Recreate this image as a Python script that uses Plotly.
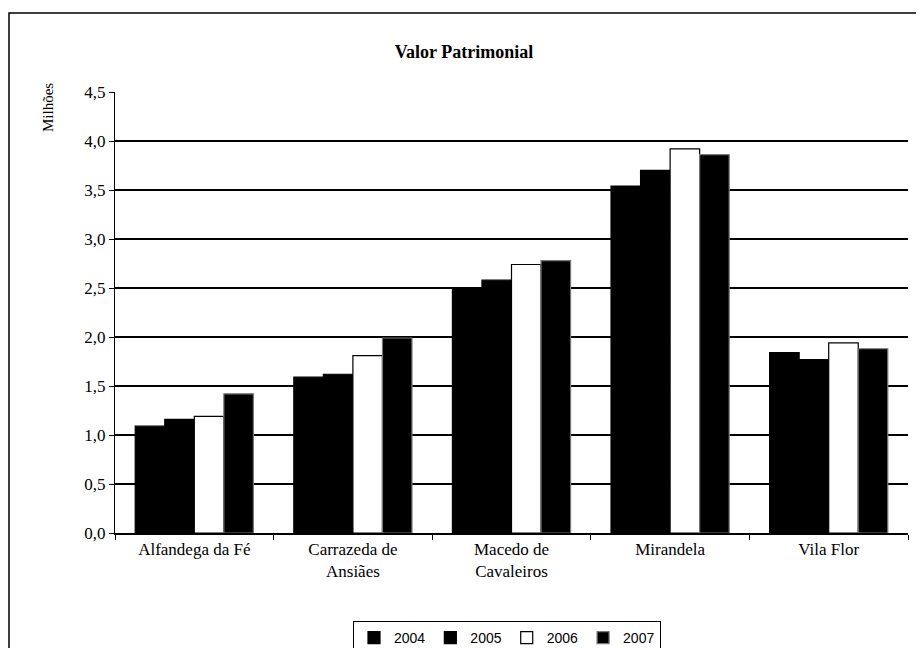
import plotly.graph_objects as go

categories = ["Alfandega da Fé", "Carrazeda de<br>Ansiães", "Macedo de<br>Cavaleiros", "Mirandela", "Vila Flor"]
years = ["2004", "2005", "2006", "2007"]
v2004 = [1.09, 1.59, 2.50, 3.54, 1.84]
v2005 = [1.16, 1.62, 2.58, 3.70, 1.77]
v2006 = [1.19, 1.81, 2.74, 3.92, 1.94]
v2007 = [1.42, 1.99, 2.78, 3.86, 1.88]
series = [v2004, v2005, v2006, v2007]

fills = ["black", "black", "white", "black"]
lines = ["black", "black", "black", "#777777"]

serif = "Liberation Serif"
W, H = 916, 640  # page adds 8px body margin
L, R, T, B = 107, 16, 84, 115
pw, ph = W - L - R, H - T - B

fig = go.Figure()
for name, vals, fc, lc in zip(years, series, fills, lines):
    fig.add_trace(go.Bar(x=categories, y=vals, name=name,
                         marker=dict(color=fc, line=dict(color=lc, width=1.2))))

fig.update_layout(
    width=W, height=H,
    margin=dict(l=L, r=R, t=T, b=B, autoexpand=False),
    paper_bgcolor="white", plot_bgcolor="white",
    barmode="group", bargap=0.255, bargroupgap=0,
    separators=",.",
    title=dict(text="<b>Valor Patrimonial</b>", x=(464 - 8 - L) / pw, xref="paper", xanchor="center",
               y=1 - 44 / H, yanchor="middle",
               font=dict(family=serif, size=18, color="black")),
    font=dict(family=serif, size=17, color="black"),
    showlegend=True,
    legend=dict(orientation="h", x=(507 - 8 - L) / pw, xanchor="center",
                y=-(613 - T) / ph + 1, yanchor="top",
                bordercolor="black", borderwidth=1, bgcolor="white",
                font=dict(family="Liberation Sans", size=14, color="black"),
                itemwidth=30, tracegroupgap=0),
)
fig.update_yaxes(range=[0, 4.5], dtick=0.5, tickformat=".1f", showgrid=True, gridcolor="black", gridwidth=1.5,
                 showline=True, linecolor="black", linewidth=1, ticks="outside", ticklen=5, tickcolor="black",
                 tickfont=dict(family=serif, size=17), zeroline=False)
fig.update_xaxes(showline=True, linecolor="black", linewidth=1.5, ticks="outside", tickson="boundaries",
                 ticklen=5, tickcolor="black", tickfont=dict(family=serif, size=17))

fig.add_annotation(text="Milhões", textangle=-90, xref="paper", yref="paper",
                   x=(40 - L) / pw, y=1 - (100 - T) / ph,
                   xanchor="center", yanchor="middle",
                   showarrow=False, font=dict(family=serif, size=15, color="black"))
fig.add_shape(type="rect", xref="paper", yref="paper",
              x0=(1 - L) / pw, x1=1.05, y0=-0.4, y1=1 + (T - 5) / ph,
              line=dict(color="black", width=1.5))

fig.write_html("out.html")
